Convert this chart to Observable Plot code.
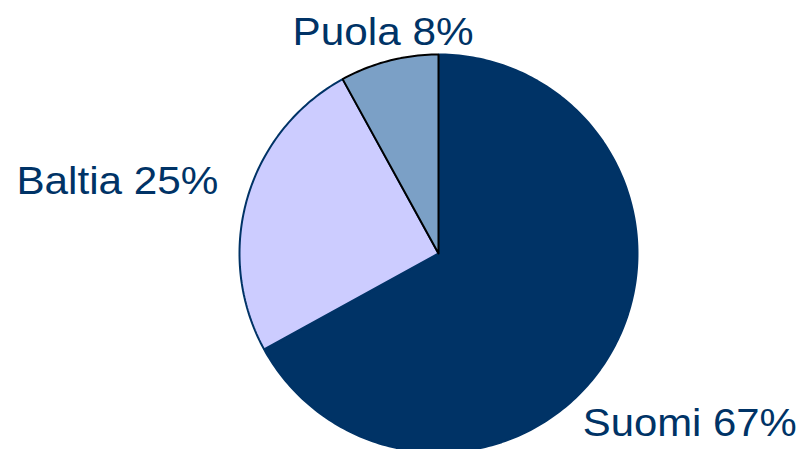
<!DOCTYPE html>
<html>
<head>
<meta charset="utf-8">
<script src="https://cdn.jsdelivr.net/npm/d3@7"></script>
<script src="https://cdn.jsdelivr.net/npm/@observablehq/plot@0.6"></script>
<style>
  html, body { margin: 0; padding: 0; background: #fff; overflow: hidden; }
</style>
</head>
<body>
<div id="chart"></div>
<script>
// Data
const categories = ["Suomi", "Baltia", "Puola"];
const shares = [67, 25, 8];

// Styles (not data)
const fills = ["#003366", "#CCCCFF", "#7BA0C6"];
const strokes = ["#003366", "#003366", "#000000"];
const labelOffsets = [[-27, 81], [-231, -3.5], [-96.5, -16]]; // px offsets from slice edge mid-point
const labelWidths = [214, 202, 181]; // rendered text widths, px

const total = d3.sum(shares);
let acc = 0;
const slices = categories.map((name, i) => {
  const a0 = acc / total * 2 * Math.PI;
  acc += shares[i];
  const a1 = acc / total * 2 * Math.PI;
  return { name, value: shares[i], a0, a1, i };
});

// polygon outline for each slice (angles clockwise from top)
function wedge(s) {
  const pts = [{ x: 0, y: 0, name: s.name }];
  const n = Math.max(2, Math.ceil((s.a1 - s.a0) / (Math.PI / 180)));
  for (let k = 0; k <= n; k++) {
    const a = s.a0 + (s.a1 - s.a0) * k / n;
    pts.push({ x: Math.sin(a), y: Math.cos(a), name: s.name });
  }
  pts.push({ x: 0, y: 0, name: s.name });
  return pts;
}

const labels = slices.map(s => {
  const m = (s.a0 + s.a1) / 2;
  return { x: Math.sin(m), y: Math.cos(m), text: `${s.name} ${s.value}%`, i: s.i };
});

const marks = slices.map(s =>
  Plot.line(wedge(s), {
    x: "x", y: "y",
    fill: fills[s.i], stroke: strokes[s.i],
    strokeWidth: 2, strokeLinejoin: "miter", curve: "linear"
  })
);

labels.forEach(l => {
  marks.push(Plot.text([l], {
    x: "x", y: "y", text: "text",
    dx: labelOffsets[l.i][0], dy: labelOffsets[l.i][1],
    textAnchor: "start", lineAnchor: "bottom",
    fill: "#003366", fontSize: 38,
    className: "lbl" + l.i
  }));
});

const chart = Plot.plot({
  width: 800,
  height: 449,
  margin: 0,
  x: { domain: [-1, 1], range: [239, 637], axis: null },
  y: { domain: [-1, 1], range: [452, 54], axis: null },
  style: { fontFamily: "'Liberation Sans', Arial, sans-serif", background: "#fff", overflow: "hidden" },
  marks
});
labels.forEach(l => {
  d3.select(chart).selectAll(`.lbl${l.i} text`)
    .attr("textLength", labelWidths[l.i])
    .attr("lengthAdjust", "spacingAndGlyphs");
});
document.getElementById("chart").appendChild(chart);
</script>
</body>
</html>
